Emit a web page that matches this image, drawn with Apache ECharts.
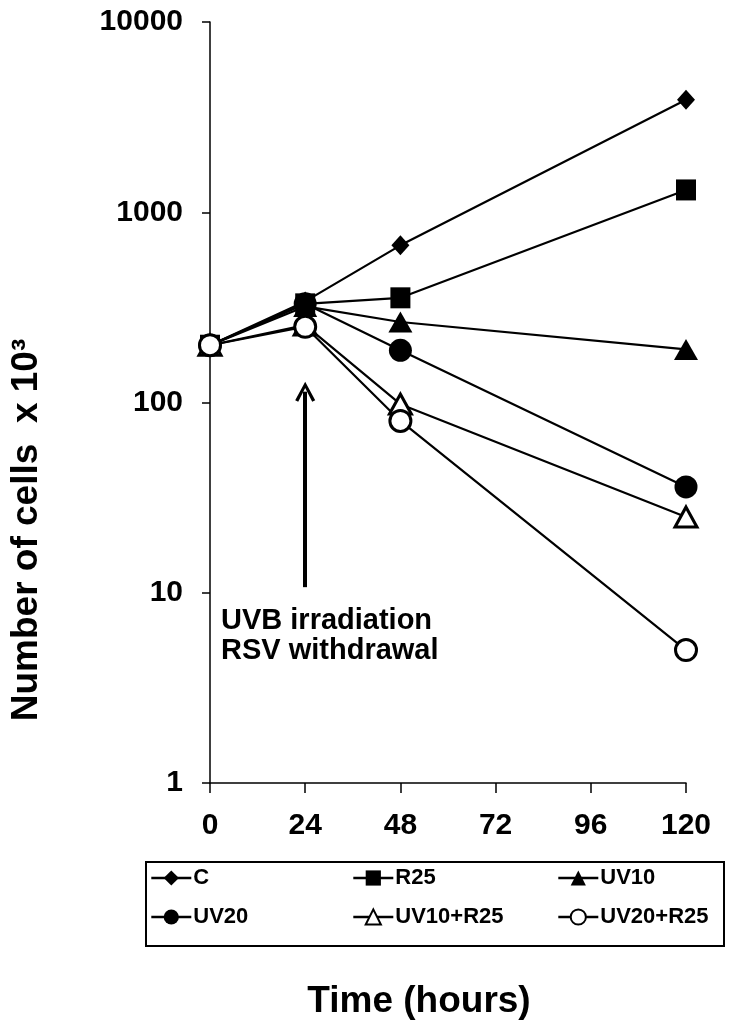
<!DOCTYPE html>
<html>
<head>
<meta charset="utf-8">
<script src="https://cdn.jsdelivr.net/npm/echarts@6/dist/echarts.min.js"></script>
<style>
  html, body { margin: 0; padding: 0; background: #fff; }
  #chart { width: 749px; height: 1030px; }
</style>
</head>
<body>
<div id="chart"></div>
<script>
// time points (hours)
const hours = [0, 24, 48, 120]
const xTicks = [0, 24, 48, 72, 96, 120]

// cell counts x 10^3
const C = [200, 340, 670, 3900]
const R25 = [200, 330, 355, 1310]
const UV10 = [200, 320, 265, 190]
const UV20 = [200, 330, 188, 36]
const UV10R25 = [200, 255, 98, 25]
const UV20R25 = [200, 250, 80, 5]

// arrow for the irradiation note (x, cells)
const arrowFrom = [24, 10.7]
const arrowTo = [24, 114]

const font = 'Liberation Sans, Arial, sans-serif'
const chart = echarts.init(document.getElementById('chart'))

function pts(vals) {
  return hours.map((h, i) => [h, vals[i]])
}

function mkSeries(name, vals, symbol, size, open) {
  return {
    name: name,
    type: 'line',
    data: pts(vals),
    symbol: symbol,
    symbolSize: size,
    showSymbol: true,
    lineStyle: { color: '#000', width: 2.2 },
    itemStyle: open
      ? { color: '#fff', borderColor: '#000', borderWidth: 3 }
      : { color: '#000', borderColor: '#000', borderWidth: 0 },
    z: open ? 4 : 3,
    animation: false
  }
}

const series = [
  mkSeries('C', C, 'diamond', [18, 20], false),
  mkSeries('R25', R25, 'rect', [20, 21], false),
  mkSeries('UV10', UV10, 'triangle', [24, 21], false),
  mkSeries('UV20', UV20, 'circle', 23, false),
  mkSeries('UV10+R25', UV10R25, 'triangle', [22, 20], true),
  mkSeries('UV20+R25', UV20R25, 'circle', 21, true)
]

// irradiation arrow (open chevron head)
series[0].markLine = {
  silent: true,
  symbol: ['none', 'path://M0,19 L10,0 L20,19 L17,20.5 L10,6.5 L3,20.5 Z'],
  symbolSize: [20, 20],
  lineStyle: { color: '#000', width: 4, type: 'solid' },
  label: { show: false },
  data: [[{ coord: arrowFrom }, { coord: arrowTo }]]
}

// one legend per entry, laid out in a 3 x 2 table
const legendPos = [
  [150, 878], [352, 878], [557, 878],
  [150, 917], [352, 917], [557, 917]
]
const legends = series.map((s, i) => ({
  data: [s.name],
  left: legendPos[i][0],
  top: legendPos[i][1] - 11,
  padding: 0,
  itemWidth: 40,
  itemHeight: 19,
  itemGap: 0,
  selectedMode: false,
  lineStyle: { width: 2.6 },
  textStyle: { fontFamily: font, fontWeight: 'bold', fontSize: 22, color: '#000', padding: [0, 0, 0, -3] }
}))

chart.setOption({
  backgroundColor: '#fff',
  animation: false,
  grid: { left: 210, right: 63, top: 22, bottom: 247 },
  legend: legends,
  xAxis: {
    type: 'value',
    min: 0,
    max: 120,
    interval: 24,
    axisLine: { lineStyle: { color: '#000', width: 1.5 } },
    axisTick: { show: true, length: 10, lineStyle: { color: '#000', width: 1.5 } },
    axisLabel: {
      margin: 28,
      fontFamily: font,
      fontWeight: 'bold',
      fontSize: 30,
      color: '#000',
      formatter: v => (xTicks.indexOf(v) >= 0 ? String(v) : '')
    },
    splitLine: { show: false }
  },
  yAxis: {
    type: 'log',
    logBase: 10,
    min: 1,
    max: 10000,
    axisLine: { show: true, lineStyle: { color: '#000', width: 1.5 } },
    axisTick: { show: true, length: 8, lineStyle: { color: '#000', width: 1.5 } },
    axisLabel: {
      margin: 27,
      fontFamily: font,
      fontWeight: 'bold',
      fontSize: 30,
      color: '#000',
      formatter: v => String(v)
    },
    minorTick: { show: false },
    splitLine: { show: false }
  },
  series: series,
  graphic: [
    {
      type: 'text',
      left: 221,
      top: 606,
      style: {
        text: 'UVB irradiation\nRSV withdrawal',
        font: 'bold 29px ' + font,
        fill: '#000',
        lineHeight: 30
      }
    },
    {
      type: 'text',
      x: 27,
      y: 530,
      rotation: Math.PI / 2,
      style: {
        text: 'Number of cells  x 10³',
        font: 'bold 37px ' + font,
        fill: '#000',
        textAlign: 'center',
        textVerticalAlign: 'middle'
      }
    },
    {
      type: 'text',
      x: 419,
      y: 1002,
      style: {
        text: 'Time (hours)',
        font: 'bold 37px ' + font,
        fill: '#000',
        textAlign: 'center',
        textVerticalAlign: 'middle'
      }
    },
    {
      type: 'rect',
      shape: { x: 146, y: 862, width: 578, height: 84 },
      style: { fill: 'none', stroke: '#000', lineWidth: 2 },
      z: -1
    }
  ]
})
</script>
</body>
</html>
